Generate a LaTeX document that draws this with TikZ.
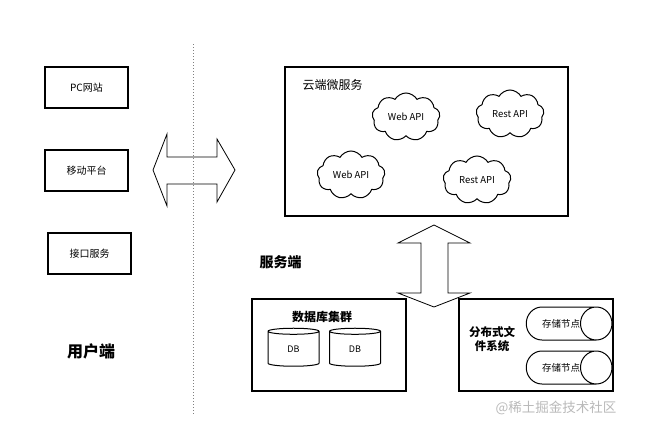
\documentclass[tikz,border=0pt]{standalone}
\usepackage{fontspec}
\setmainfont{Noto Sans CJK SC}
\usetikzlibrary{shapes.geometric,shapes.symbols}
\begin{document}
\begin{tikzpicture}[x=1pt,y=-1pt]
  \tikzset{client box/.style={rectangle,draw=black,line width=1.3pt,minimum width=83pt,minimum height=41pt,inner sep=0pt,font=\fontsize{10}{12}\selectfont},
    group box/.style={rectangle,draw=black,line width=1.3pt,inner sep=0pt},
    api cloud/.style={cloud,cloud puffs=9,cloud puff arc=120,aspect=1.4,draw=black,line width=1pt,minimum width=68pt,minimum height=48pt,inner sep=0pt,font=\fontsize{9.5}{11}\selectfont},
    db node/.style={cylinder,shape border rotate=90,aspect=0.5,draw=black,line width=1pt,minimum width=51pt,minimum height=38pt,inner sep=0pt,font=\fontsize{9}{11}\selectfont},
    store node/.style={cylinder,aspect=3.6,draw=black,line width=1pt,minimum width=33pt,minimum height=71pt,inner sep=0pt,font=\fontsize{9.5}{11}\selectfont},
    big arrow/.style={draw=black,line width=0.8pt,fill=white}}
  \useasboundingbox (0,0) rectangle (669,439);
  % user side
  \node[client box] (pc) at (86.5,87.5) {PC网站};
  \node[client box] (mobile) at (86.5,170.5) {移动平台};
  \node[client box] (iface) at (89.5,253.5) {接口服务};
  \node[font=\fontsize{16}{18}\selectfont\bfseries] (user) at (91,351) {用户端};
  % arrows
  \draw[big arrow] (153,170) -- (167,134) -- (167,157) -- (217,157) -- (217,139) -- (235,170)
    -- (217,202) -- (217,184) -- (167,184) -- (167,206) -- cycle;
  \draw[big arrow] (434,225) -- (470,243) -- (448,243) -- (448,293) -- (470,293) -- (434,307)
    -- (398,293) -- (421,293) -- (421,243) -- (398,243) -- cycle;
  \draw[gray,dotted,line width=1pt] (193,44) -- (193,415);
  % cloud services
  \node[group box,minimum width=283pt,minimum height=149pt] (cloudbox) at (426.5,141.5) {};
  \node[anchor=west,font=\fontsize{12}{14}\selectfont] (cloudtitle) at (299,85) {云端微服务};
  \node[api cloud] (web1) at (406,117) {Web API};
  \node[api cloud] (rest1) at (510,114) {Rest API};
  \node[api cloud] (web2) at (351,175) {Web API};
  \node[api cloud] (rest2) at (477,180) {Rest API};
  % server side
  \node[anchor=west,font=\fontsize{14}{16}\selectfont\bfseries] (server) at (256,262) {服务端};
  \node[group box,minimum width=154pt,minimum height=92pt] (dbbox) at (329,345) {};
  \node[font=\fontsize{12}{14}\selectfont\bfseries] (dbtitle) at (322,317) {数据库集群};
  \node[db node] (db1) at (293.5,349) {DB};
  \node[db node] (db2) at (355,349) {DB};
  \node[group box,minimum width=154pt,minimum height=92pt] (fsbox) at (536,345) {};
  \node[align=center,font=\fontsize{11.5}{14}\selectfont\bfseries] (fstitle) at (492,339) {分布式文\\件系统};
  \node[store node] (store1) at (561,323.5) {存储节点};
  \node[store node] (store2) at (561,367.5) {存储节点};
  \node[anchor=east,text=gray!55,font=\fontsize{13.5}{15}\selectfont] (mark) at (620,408) {@稀土掘金技术社区};
\end{tikzpicture}
\end{document}
